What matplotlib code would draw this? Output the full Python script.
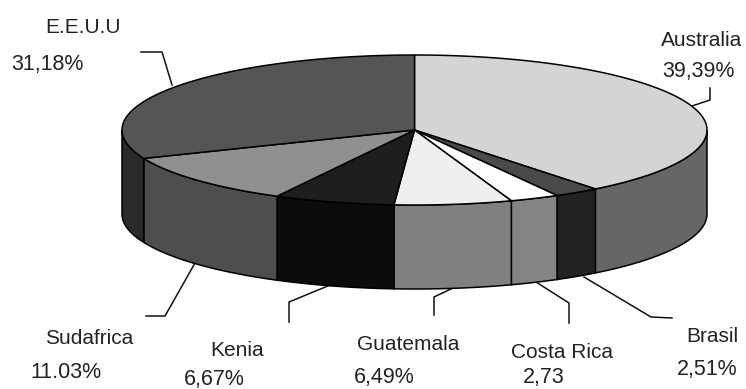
import numpy as np
import matplotlib
matplotlib.use('Agg')
import matplotlib.pyplot as plt
from matplotlib.patches import Polygon

plt.rcParams['font.family'] = ['Liberation Sans', 'DejaVu Sans']

# shares per country, clockwise from 12 o'clock
countries = ['Australia', 'Brasil', 'Costa Rica', 'Guatemala', 'Kenia', 'Sudafrica', 'E.E.U.U']
shares = [39.39, 2.51, 2.73, 6.49, 6.67, 11.03, 31.18]
share_labels = ['39,39%', '2,51%', '2,73', '6,49%', '6,67%', '11.03%', '31,18%']

top_colors = ['#d4d4d4', '#4a4a4a', '#ffffff', '#efefef', '#1e1e1e', '#909090', '#555555']
side_colors = ['#666666', '#222222', '#848484', '#808080', '#0c0c0c', '#4e4e4e', '#2a2a2a']

# pie geometry in pixels
cx, cy = 414.5, 130
rx, ry = 292.5, 75
depth = 84

# name position, value position
label_pos = [
    ((702, 40), (698, 71)),
    ((712, 337), (707, 369)),
    ((562, 352), (544, 378)),
    ((408, 345), (384, 377)),
    ((237, 350), (214, 380)),
    ((89, 338), (66, 373)),
    ((83, 27), (47, 64)),
]

leaders = [
    [(710, 88), (710, 100), (692, 106)],
    [(672, 318), (651, 317), (584, 277)],
    [(569, 323), (569, 303), (536, 282)],
    [(434, 315), (434, 297), (455, 287)],
    [(289, 322), (289, 302), (335, 283)],
    [(146, 316), (165, 316), (195, 263)],
    [(141, 52), (162, 52), (172, 85)],
]


def rim(a0, a1, dy=0):
    t = np.radians(np.linspace(a0, a1, 80))
    return np.column_stack([cx + rx * np.sin(t), cy + dy - ry * np.cos(t)])


fig = plt.figure(figsize=(7.46, 3.89), dpi=100)
ax = fig.add_axes([0, 0, 1, 1])
ax.set_xlim(0, 746)
ax.set_ylim(389, 0)
ax.axis('off')

edges = np.concatenate([[0], np.cumsum(shares)]) * 360 / sum(shares)

# outer wall, only the part facing the viewer
for i in range(len(shares)):
    a0 = max(edges[i], 90)
    a1 = min(edges[i + 1], 270)
    if a1 <= a0:
        continue
    pts = np.vstack([rim(a0, a1), rim(a1, a0, depth)])
    ax.add_patch(Polygon(pts, closed=True, fc=side_colors[i], ec='black', lw=1.1, zorder=2))

# top face
for i in range(len(shares)):
    pts = np.vstack([[(cx, cy)], rim(edges[i], edges[i + 1])])
    ax.add_patch(Polygon(pts, closed=True, fc=top_colors[i], ec='black', lw=1.1, zorder=3))

for path in leaders:
    xs, ys = zip(*path)
    ax.plot(xs, ys, color='#111111', lw=1.1, zorder=1)

for name, val, (name_xy, val_xy) in zip(countries, share_labels, label_pos):
    ax.text(*name_xy, name, ha='center', va='center', fontsize=15, color='#222222')
    ax.text(*val_xy, val, ha='center', va='center', fontsize=15.5, color='#222222')

fig.savefig('out.png', dpi=100)
